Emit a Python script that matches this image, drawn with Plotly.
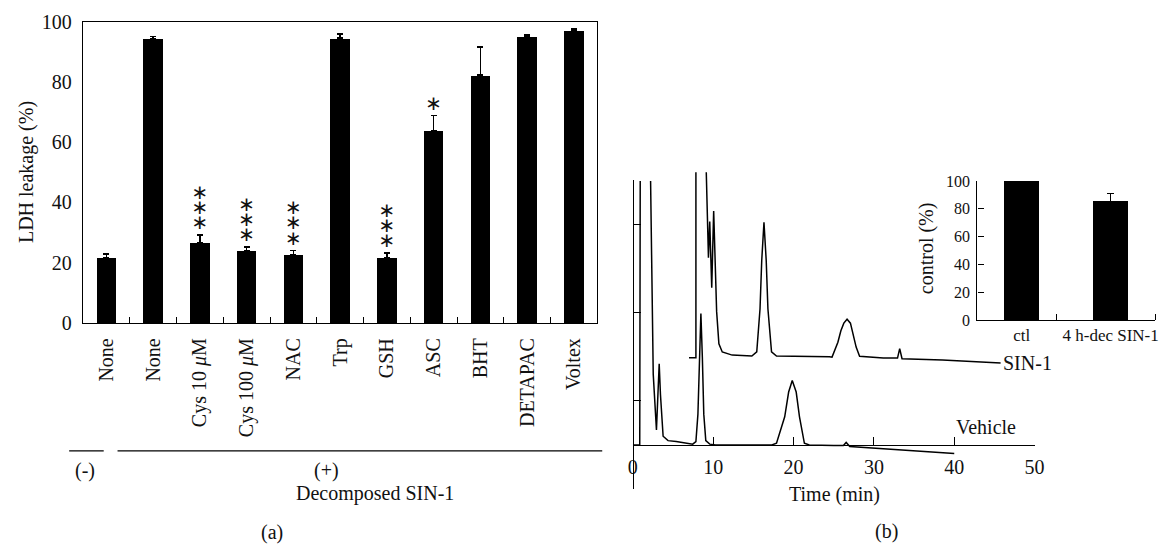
import plotly.graph_objects as go

W, H = 1168, 554
FONT = "Liberation Serif, Times New Roman, serif"
INK = "#111111"

# ---------------- panel (a) data ----------------
labels_a = ["None", "None", "Cys 10 <i>μ</i>M", "Cys 100 <i>μ</i>M", "NAC", "Trp",
            "GSH", "ASC", "BHT", "DETAPAC", "Voltex"]
ldh = [21.7, 94.2, 26.7, 24.0, 22.7, 94.5, 21.8, 63.8, 82.2, 95.1, 97.0]
ldh_err = [1.2, 0.9, 2.5, 1.3, 1.4, 1.4, 1.4, 5.0, 9.3, 0.4, 0.5]
sig = ["", "", "***", "***", "***", "", "***", "*", "", "", ""]

# ---------------- panel (b) chromatogram data (time in min, signal a.u.) ----------------
veh_t = [0.0, 0.86, 0.92, None, 2.21, 2.54, 2.94, 3.13, 3.28, 3.44, 3.77, 4.38, 5.4, 7.45,
         7.85, 8.1, 8.28, 8.47, 8.65, 8.83, 9.08, 9.57, 10.3, 17.3, 17.88, 18.9, 19.39,
         19.84, 20.33, 20.74, 21.35, 21.96, 25.0, 26.2, 26.55, 26.85, 27.0, 40.0]
veh_y = [0.0, 0.0, 2.99, None, 2.99, 0.80, 0.17, 0.57, 0.92, 0.57, 0.10, 0.05, 0.04, 0.01,
         0.04, 0.35, 1.0, 1.49, 1.0, 0.35, 0.05, 0.01, 0.0, 0.0, 0.02, 0.32, 0.60,
         0.73, 0.60, 0.32, 0.02, 0.0, -0.005, -0.005, 0.03, -0.01, -0.016, -0.095]

sin_t = [6.99, 7.85, 7.85, None, 9.14, 9.41, 9.57, 9.82, 10.06, 10.22, 10.43, 10.71, 11.13,
         12.36, 14.81, 15.42, 15.83, 16.04, 16.32, 16.60, 16.81, 17.26, 17.88, 24.48,
         24.79, 25.52, 25.89, 26.26, 26.66, 27.08, 27.42, 27.79, 28.22, 31.17, 32.94,
         33.21, 33.5, 38.53, 45.77]
sin_y = [0.989, 0.989, 3.087, None, 3.087, 2.12, 2.53, 1.78, 2.65, 2.09, 1.51, 1.145, 1.054,
         1.018, 1.008, 1.054, 1.543, 2.087, 2.52, 2.087, 1.543, 1.054, 1.008, 1.0,
         0.995, 1.163, 1.293, 1.38, 1.424, 1.38, 1.26, 1.109, 1.005, 0.984, 0.984,
         1.092, 0.978, 0.962, 0.929]

time_ticks = [0, 10, 20, 30, 40, 50]
bracket_ticks = [-0.5, 0.5, 1.5, 2.5]

# ---------------- inset data ----------------
inset_labels = ["ctl", "4 h-dec SIN-1"]
inset_vals = [100.0, 85.3]
inset_err = [0.5, 5.7]

fig = go.Figure()

# panel (a) bars
xa = list(range(len(labels_a)))
fig.add_trace(go.Bar(
    x=xa, y=ldh, width=0.42, marker=dict(color="#000000", line=dict(width=0)),
    error_y=dict(type="data", symmetric=False, array=ldh_err, arrayminus=[0] * len(ldh_err),
                 color="#000000", thickness=1.6, width=3),
    xaxis="x", yaxis="y", showlegend=False, hoverinfo="skip"))

# significance stars
sx, sy = [], []
for i, s in enumerate(sig):
    for k in range(len(s)):
        sx.append(i)
        sy.append(ldh[i] + ldh_err[i] + 3.6 + 5.0 * k)
fig.add_trace(go.Scatter(
    x=sx, y=sy, mode="text", text=["∗"] * len(sx), textposition="middle center",
    textfont=dict(family="DejaVu Sans", size=20, color=INK),
    xaxis="x", yaxis="y", showlegend=False, hoverinfo="skip", cliponaxis=False))

# panel (b) traces
fig.add_trace(go.Scatter(x=veh_t, y=veh_y, mode="lines", line=dict(color="#000000", width=1.5),
                         connectgaps=False, xaxis="x2", yaxis="y2", showlegend=False,
                         hoverinfo="skip"))
fig.add_trace(go.Scatter(x=sin_t, y=sin_y, mode="lines", line=dict(color="#000000", width=1.5),
                         connectgaps=False, xaxis="x2", yaxis="y2", showlegend=False,
                         hoverinfo="skip"))
# dummy trace to host the detached intensity axis
fig.add_trace(go.Scatter(x=[None], y=[None], xaxis="x2", yaxis="y3", showlegend=False,
                         hoverinfo="skip"))

# inset bars
fig.add_trace(go.Bar(
    x=[0, 1], y=inset_vals, width=0.39, marker=dict(color="#000000", line=dict(width=0)),
    error_y=dict(type="data", symmetric=False, array=inset_err, arrayminus=[0, 0],
                 color="#000000", thickness=1.5, width=3.5),
    xaxis="x3", yaxis="y4", showlegend=False, hoverinfo="skip"))

def px_x(p):
    return p / W

def px_y(p):
    return (H - p) / H

FS = 20
tickfont = dict(family=FONT, size=FS, color=INK)

fig.update_layout(
    width=W, height=H, autosize=False, margin=dict(l=0, r=0, t=0, b=0),
    paper_bgcolor="white", plot_bgcolor="rgba(0,0,0,0)",
    font=dict(family=FONT, size=FS, color=INK),
    bargap=0,
    xaxis=dict(domain=[px_x(79), px_x(600)], range=[-0.5, 10.5], type="linear",
               tickvals=xa, ticktext=labels_a, tickangle=-90, ticks="",
               ticklabelstandoff=6,
               minor=dict(tick0=0.5, dtick=1, ticks="inside", ticklen=6, tickcolor="black",
                          tickwidth=1.3),
               showline=True, linecolor="black", linewidth=1.3, mirror=True,
               showgrid=False, zeroline=False, tickfont=tickfont, anchor="y"),
    yaxis=dict(domain=[px_y(325), px_y(11)], range=[0, 100], tickvals=[0, 20, 40, 60, 80, 100],
               ticks="", ticklabelstandoff=6, showline=True, linecolor="black", linewidth=1.3,
               mirror=True, showgrid=False, zeroline=False, tickfont=tickfont, anchor="x"),
    xaxis2=dict(domain=[px_x(636), px_x(1043)], range=[0, 50], tickvals=time_ticks,
                ticks="inside", ticklen=8, tickwidth=1.3, tickcolor="black",
                ticklabelstandoff=4,
                showline=True, linecolor="black", linewidth=1.3,
                showgrid=False, zeroline=False, tickfont=tickfont,
                anchor="free", position=px_y(452)),
    yaxis2=dict(domain=[px_y(470), px_y(160)], range=[(452 - 470) / 92, (452 - 160) / 92],
                visible=False, anchor="x2"),
    yaxis3=dict(domain=[px_y(498), px_y(176)], range=[-0.5, 3.0], tickvals=bracket_ticks,
                ticks="inside", ticklen=7, tickwidth=1.3, tickcolor="black",
                showticklabels=False, showline=True, linecolor="black", linewidth=1.3,
                showgrid=False, zeroline=False, anchor="free", position=px_x(636)),
    xaxis3=dict(domain=[px_x(985), px_x(1165)], range=[-0.5, 1.5], tickvals=[0, 1],
                ticktext=inset_labels, ticks="",
                minor=dict(tickvals=[0.39, 1.5], ticks="inside", ticklen=6,
                           tickcolor="black", tickwidth=1.3),
                showline=True, linecolor="black", linewidth=1.3, showgrid=False,
                zeroline=False, tickfont=dict(family=FONT, size=17, color=INK), anchor="y4"),
    yaxis4=dict(domain=[px_y(321.7), px_y(177)], range=[0, 100],
                tickvals=[0, 20, 40, 60, 80, 100], ticks="inside", ticklen=6, tickwidth=1.3,
                tickcolor="black", showline=True, linecolor="black", linewidth=1.3,
                showgrid=False, zeroline=False, ticklabelstandoff=3,
                tickfont=dict(family=FONT, size=16, color=INK), anchor="x3"),
)

# group brackets under panel (a)
for x0, x1 in [(65, 100), (114, 605)]:
    fig.add_shape(type="line", xref="paper", yref="paper", x0=px_x(x0), x1=px_x(x1),
                  y0=px_y(458), y1=px_y(458), line=dict(color="black", width=1.3))

ann = [
    dict(text="LDH leakage (%)", x=px_x(22), y=px_y(168), textangle=-90),
    dict(text="(-)", x=px_x(81), y=px_y(478)),
    dict(text="(+)", x=px_x(326), y=px_y(478)),
    dict(text="Decomposed SIN-1", x=px_x(375), y=px_y(502)),
    dict(text="(a)", x=px_x(270), y=px_y(543)),
    dict(text="Time (min)", x=px_x(840), y=px_y(503)),
    dict(text="(b)", x=px_x(893), y=px_y(542)),
    dict(text="control (%)", x=px_x(933), y=px_y(247), textangle=-90),
]
for a in ann:
    fig.add_annotation(xref="paper", yref="paper", showarrow=False,
                       xanchor="center", yanchor="middle", font=dict(family=FONT, size=FS, color=INK), **a)

fig.add_annotation(text="SIN-1", xref="x2", yref="y2", x=45.8, y=0.93, xanchor="left",
                   yanchor="middle", showarrow=False, font=dict(family=FONT, size=FS, color=INK))
fig.add_annotation(text="Vehicle", xref="x2", yref="y2", x=43.9, y=0.20, xanchor="center",
                   yanchor="middle", showarrow=False, font=dict(family=FONT, size=FS, color=INK))

fig.write_html(
    "out.html",
    post_script=("document.documentElement.style.margin='0';"
                 "document.body.style.margin='0';document.body.style.padding='0';"
                 "document.documentElement.style.overflow='hidden';"),
)
